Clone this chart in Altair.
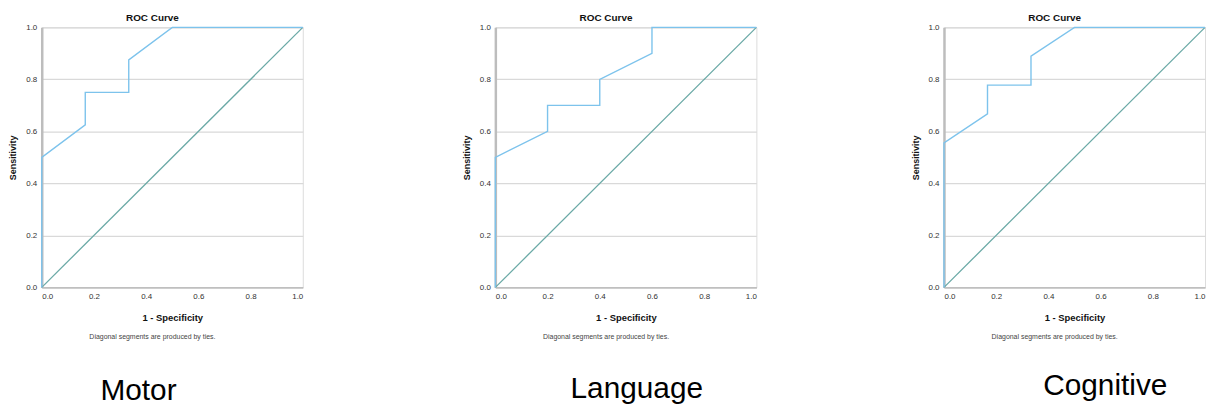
import altair as alt
import pandas as pd

# ---- data ----
names = ["Motor", "Language", "Cognitive"]
fpr_motor = [0.0, 0.0, 0.1667, 0.1667, 0.3333, 0.3333, 0.5, 1.0]
tpr_motor = [0.0, 0.5, 0.625, 0.75, 0.75, 0.875, 1.0, 1.0]
fpr_language = [0.0, 0.0, 0.2, 0.2, 0.4, 0.4, 0.6, 0.6, 1.0]
tpr_language = [0.0, 0.5, 0.6, 0.7, 0.7, 0.8, 0.9, 1.0, 1.0]
fpr_cognitive = [0.0, 0.0, 0.1667, 0.1667, 0.3333, 0.3333, 0.5, 1.0]
tpr_cognitive = [0.0, 0.556, 0.667, 0.778, 0.778, 0.889, 1.0, 1.0]
diag_x = [0.0, 1.0]
diag_y = [0.0, 1.0]
tick_values = [0.0, 0.2, 0.4, 0.6, 0.8, 1.0]
chart_title = "ROC Curve"
x_title = "1 - Specificity"
y_title = "Sensitivity"
footnote = "Diagonal segments are produced by ties."

# ---- layout ----
W, H = 263, 262
label_dx = [-34, 11, 31]
label_y = [366, 364, 361]
FONT = "Liberation Sans"
ROC_COLOR = "#7dc3ec"
DIAG_COLOR = "#6aa9a6"


def panel(fpr, tpr, name, dx, ly):
    df = pd.DataFrame({"fpr": fpr, "tpr": tpr, "order": list(range(len(fpr)))})
    xs = alt.Scale(domain=[0, 1], nice=False)
    ys = alt.Scale(domain=[0, 1], nice=False)
    x_axis = alt.Axis(title=x_title, values=tick_values, format=".1f", grid=False,
                      labelFontSize=8, labelColor="#333333", labelFont=FONT,
                      titleFontSize=9.5, titleFontWeight="bold", titleFont=FONT,
                      titleColor="#111111", titlePadding=12, tickSize=0, labelPadding=5,
                      domainColor="#b5b5b5", domainWidth=1.2)
    y_axis = alt.Axis(title=y_title, values=tick_values, format=".1f", grid=True,
                      gridColor="#d9d9d9", gridWidth=1.2,
                      labelFontSize=8, labelColor="#333333", labelFont=FONT,
                      titleFontSize=9, titleFontWeight="bold", titleFont=FONT,
                      titleColor="#111111", titlePadding=8, tickSize=0, labelPadding=5,
                      domainColor="#bdbdbd", domainWidth=2.5)
    diag_df = pd.DataFrame({"fpr": diag_x, "tpr": diag_y})
    diag = alt.Chart(diag_df).mark_line(color=DIAG_COLOR, strokeWidth=1.3).encode(
        x=alt.X("fpr:Q", scale=xs, axis=x_axis),
        y=alt.Y("tpr:Q", scale=ys, axis=y_axis),
    )
    roc = alt.Chart(df).mark_line(color=ROC_COLOR, strokeWidth=1.4).encode(
        x=alt.X("fpr:Q", scale=xs),
        y=alt.Y("tpr:Q", scale=ys),
        order="order:Q",
    )
    tdf = pd.DataFrame({"t": [chart_title], "f": [footnote], "n": [name]})
    title = alt.Chart(tdf).mark_text(font=FONT, fontSize=10, fontWeight="bold",
                                     color="#111111", baseline="middle").encode(
        x=alt.value(W / 2 - 20), y=alt.value(-9), text="t:N")
    foot = alt.Chart(tdf).mark_text(font=FONT, fontSize=7, color="#444444",
                                    baseline="middle").encode(
        x=alt.value(W / 2 - 20), y=alt.value(312), text="f:N")
    big = alt.Chart(tdf).mark_text(font=FONT, fontSize=30, color="#000000",
                                   baseline="middle").encode(
        x=alt.value(W / 2 + dx), y=alt.value(ly), text="n:N")
    return alt.layer(diag, roc, title, foot, big).properties(width=W, height=H)


panels = [
    panel(fpr_motor, tpr_motor, names[0], label_dx[0], label_y[0]),
    panel(fpr_language, tpr_language, names[1], label_dx[1], label_y[1]),
    panel(fpr_cognitive, tpr_cognitive, names[2], label_dx[2], label_y[2]),
]

right_pair = alt.hconcat(panels[1], panels[2], spacing=151)
chart = alt.hconcat(panels[0], right_pair, spacing=156).properties(
    padding={"left": 0, "top": 3, "right": 0, "bottom": 0}
).configure_view(strokeWidth=0).configure(background="white")

chart.save("out.html", embed_options={"renderer": "svg", "actions": False})
